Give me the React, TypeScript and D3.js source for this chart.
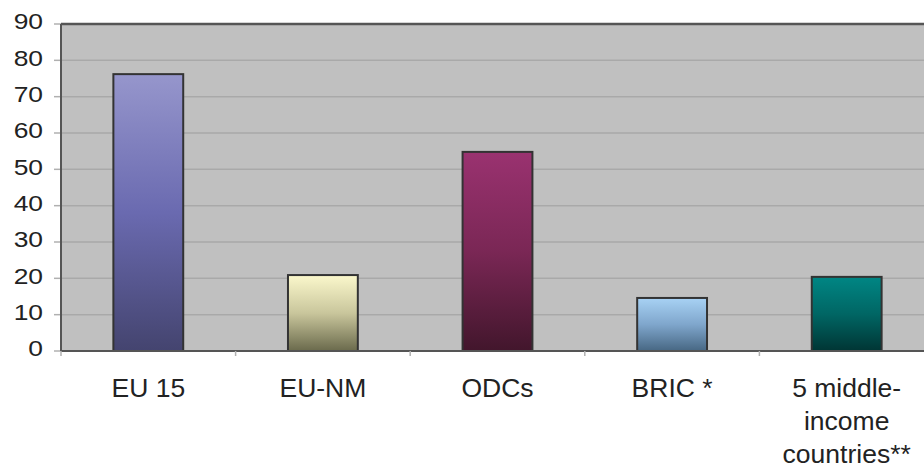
import React from "react";
import * as d3 from "d3";

const categories = ["EU 15", "EU-NM", "ODCs", "BRIC *", "5 middle-income countries**"];
const labelLines = [["EU 15"], ["EU-NM"], ["ODCs"], ["BRIC *"], ["5 middle-", "income", "countries**"]];
const values = [76.2, 20.9, 54.8, 14.6, 20.4];
const yTicks = [0, 10, 20, 30, 40, 50, 60, 70, 80, 90];
const gradStops = [
  ["#9696cc", "#6a6ab0", "#44446f"],
  ["#fbf8cc", "#c9c69c", "#6a6a4c"],
  ["#9a3270", "#7a2755", "#42162c"],
  ["#a8d2f4", "#7fa6cc", "#476783"],
  ["#008684", "#006664", "#003534"],
];

export default function App() {
  const W = 924, H = 468;
  const left = 61, top = 24, bottom = 351;
  const plotRight = 934;
  const x = d3.scaleBand<string>().domain(categories).range([left, plotRight]).paddingInner(0).paddingOuter(0);
  const y = d3.scaleLinear().domain([0, 90]).range([bottom, top]);
  const bw = x.bandwidth() * 0.4;
  const font = "'Liberation Sans', Arial, sans-serif";
  return (
    <svg width={W} height={H} style={{ position: "absolute", left: 0, top: 0 }} fontFamily={font}>
      <defs>
        {gradStops.map((s, i) => (
          <linearGradient key={i} id={`g${i}`} x1="0" y1="0" x2="0" y2="1">
            <stop offset="0%" stopColor={s[0]} />
            <stop offset="50%" stopColor={s[1]} />
            <stop offset="100%" stopColor={s[2]} />
          </linearGradient>
        ))}
      </defs>
      <rect x={0} y={0} width={W} height={H} fill="#fff" />
      <rect x={left} y={top} width={plotRight - left} height={bottom - top} fill="#c0c0c0" />
      {yTicks.map((t) => (
        <g key={t}>
          {t > 0 && t < 90 && (
            <line x1={left} x2={plotRight} y1={y(t)} y2={y(t)} stroke="#a9a9a9" strokeWidth={1.5} />
          )}
          <line x1={left - 7} x2={left} y1={y(t)} y2={y(t)} stroke="#b0b0b0" strokeWidth={1.5} />
          <text transform={`translate(43,${y(t) - 2.5}) scale(1.2,1)`} dy="0.35em" textAnchor="end" fontSize={22} fill="#222">{t}</text>
        </g>
      ))}
      <line x1={left} x2={plotRight} y1={top} y2={top} stroke="#555" strokeWidth={2.5} />
      <line x1={left} x2={left} y1={top} y2={bottom} stroke="#555" strokeWidth={2} />
      {categories.map((c, i) => {
        const cx = (x(c) as number) + x.bandwidth() / 2;
        return (
          <rect key={c} x={cx - bw / 2} y={y(values[i])} width={bw} height={bottom - y(values[i])}
            fill={`url(#g${i})`} stroke="#333" strokeWidth={2} />
        );
      })}
      <line x1={left} x2={plotRight} y1={bottom} y2={bottom} stroke="#555" strokeWidth={2} />
      {categories.map((c) => (
        <line key={"t" + c} x1={x(c) as number} x2={x(c) as number} y1={bottom} y2={bottom + 5} stroke="#b0b0b0" strokeWidth={1.5} />
      ))}
      {categories.map((c, i) => {
        const cx = (x(c) as number) + x.bandwidth() / 2;
        return (
          <text key={"l" + c} x={cx} y={397} textAnchor="middle" fontSize={26.5} fill="#222">
            {labelLines[i].map((ln, j) => (
              <tspan key={j} x={cx} y={397 + j * 33}>{ln}</tspan>
            ))}
          </text>
        );
      })}
    </svg>
  );
}
